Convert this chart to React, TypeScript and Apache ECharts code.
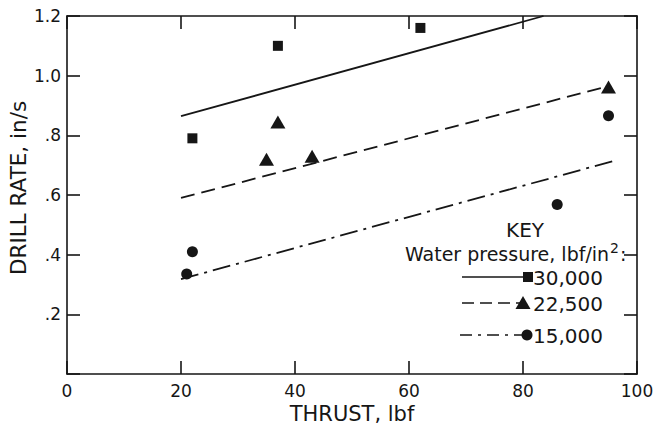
import React, { useEffect, useRef } from "react";
import * as echarts from "echarts";

// ---- data ----
const xMin = 0;
const xMax = 100;
const xInterval = 20;
const yMin = 0;
const yMax = 1.2;
const yInterval = 0.2;

const xTitle = "THRUST, lbf";
const yTitle = "DRILL RATE, in/s";

const seriesNames = ["30,000", "22,500", "15,000"];

const points30000: number[][] = [
  [22, 0.79],
  [37, 1.1],
  [62, 1.16],
];
const points22500: number[][] = [
  [35, 0.72],
  [37, 0.845],
  [43, 0.73],
  [95, 0.962],
];
const points15000: number[][] = [
  [21, 0.335],
  [22, 0.41],
  [86, 0.568],
  [95, 0.866],
];

const fit30000: number[][] = [
  [20, 0.864],
  [83.6, 1.2],
];
const fit22500: number[][] = [
  [20, 0.59],
  [95, 0.965],
];
const fit15000: number[][] = [
  [20, 0.318],
  [95.9, 0.714],
];

const INK = "#161616";
const FONT = "DejaVu Sans";

export default function App() {
  const ref = useRef<HTMLDivElement>(null);

  useEffect(() => {
    document.body.style.margin = "0";
    const chart = echarts.init(ref.current!, null, { renderer: "svg" });

    const axisLine = { show: true, onZero: false, lineStyle: { color: INK, width: 1.6 } };
    const tickIn = { show: true, inside: true, length: 13, lineStyle: { color: INK, width: 1.6 } };

    const fmtY = (v: number) => {
      if (v === 0) return "";
      const s = v.toFixed(1);
      return v < 1 ? s.replace(/^0/, "") : s;
    };

    const legendLeft = 462;
    const legendRight = 523;
    const rowY = [277, 303, 335];
    const textX = 533;

    chart.setOption({
      animation: false,
      backgroundColor: "#ffffff",
      textStyle: { fontFamily: FONT, color: INK },
      grid: { left: 67, right: 17, top: 16, bottom: 52, containLabel: false, outerBoundsMode: "none" },
      xAxis: [
        {
          type: "value",
          min: xMin,
          max: xMax,
          interval: xInterval,
          position: "bottom",
          axisLine,
          axisTick: tickIn,
          splitLine: { show: false },
          axisLabel: { color: INK, fontFamily: FONT, fontSize: 17, margin: 8 },
          name: xTitle,
          nameLocation: "middle",
          nameGap: 24,
          nameTextStyle: { color: INK, fontFamily: FONT, fontSize: 21 },
        },
        {
          type: "value",
          min: xMin,
          max: xMax,
          interval: xInterval,
          position: "top",
          axisLine,
          axisTick: tickIn,
          splitLine: { show: false },
          axisLabel: { show: false },
        },
      ],
      yAxis: [
        {
          type: "value",
          min: yMin,
          max: yMax,
          interval: yInterval,
          position: "left",
          axisLine,
          axisTick: tickIn,
          splitLine: { show: false },
          axisLabel: { color: INK, fontFamily: FONT, fontSize: 17, margin: 6, formatter: fmtY },
        },
        {
          type: "value",
          min: yMin,
          max: yMax,
          interval: yInterval,
          position: "right",
          axisLine,
          axisTick: tickIn,
          splitLine: { show: false },
          axisLabel: { show: false },
        },
      ],
      series: [
        {
          name: seriesNames[0] + " fit",
          type: "line",
          data: fit30000,
          symbol: "none",
          lineStyle: { color: INK, width: 1.8, type: "solid" },
        },
        {
          name: seriesNames[1] + " fit",
          type: "line",
          data: fit22500,
          symbol: "none",
          lineStyle: { color: INK, width: 1.8, type: [14, 7] },
        },
        {
          name: seriesNames[2] + " fit",
          type: "line",
          data: fit15000,
          symbol: "none",
          lineStyle: { color: INK, width: 1.8, type: [18, 6, 3, 6] },
        },
        {
          name: seriesNames[0],
          type: "scatter",
          data: points30000,
          symbol: "rect",
          symbolSize: 10,
          itemStyle: { color: INK, opacity: 1 },
        },
        {
          name: seriesNames[1],
          type: "scatter",
          data: points22500,
          symbol: "triangle",
          symbolSize: [15, 13],
          itemStyle: { color: INK, opacity: 1 },
        },
        {
          name: seriesNames[2],
          type: "scatter",
          data: points15000,
          symbol: "circle",
          symbolSize: 11,
          itemStyle: { color: INK, opacity: 1 },
        },
      ],
      graphic: [
        {
          type: "text",
          x: 18,
          y: 188,
          rotation: Math.PI / 2,
          style: { text: yTitle, fill: INK, font: `21.5px "${FONT}"`, align: "center", verticalAlign: "middle" },
        },
        {
          type: "text",
          x: 525,
          y: 230,
          style: { text: "KEY", fill: INK, font: `20px "${FONT}"`, align: "center", verticalAlign: "middle" },
        },
        {
          type: "text",
          x: 405,
          y: 254,
          style: {
            text: "{a|Water pressure, lbf/in}{s|2}{a|:}",
            fill: INK,
            align: "left",
            verticalAlign: "middle",
            rich: {
              a: { fontFamily: FONT, fontSize: 19, fill: INK },
              s: { fontFamily: FONT, fontSize: 14, fill: INK, padding: [0, 1, 12, 1] },
            },
          },
        },
        // legend rows
        {
          type: "line",
          shape: { x1: legendLeft, y1: rowY[0], x2: legendRight, y2: rowY[0] },
          style: { stroke: INK, lineWidth: 1.6 },
        },
        {
          type: "rect",
          shape: { x: legendRight, y: rowY[0] - 5, width: 10, height: 10 },
          style: { fill: INK },
        },
        {
          type: "text",
          x: textX,
          y: rowY[0] + 1,
          style: { text: seriesNames[0], fill: INK, font: `20px "${FONT}"`, align: "left", verticalAlign: "middle" },
        },
        {
          type: "line",
          shape: { x1: legendLeft, y1: rowY[1], x2: legendRight - 2, y2: rowY[1] },
          style: { stroke: INK, lineWidth: 1.6, lineDash: [12, 6] },
        },
        {
          type: "polygon",
          shape: { points: [[523, rowY[1] - 7], [530.5, rowY[1] + 6], [515.5, rowY[1] + 6]] },
          style: { fill: INK },
        },
        {
          type: "text",
          x: textX,
          y: rowY[1] + 1,
          style: { text: seriesNames[1], fill: INK, font: `20px "${FONT}"`, align: "left", verticalAlign: "middle" },
        },
        {
          type: "line",
          shape: { x1: legendLeft - 2, y1: rowY[2], x2: legendRight, y2: rowY[2] },
          style: { stroke: INK, lineWidth: 1.6, lineDash: [12, 6, 3, 6] },
        },
        {
          type: "circle",
          shape: { cx: 527, cy: rowY[2], r: 5.5 },
          style: { fill: INK },
        },
        {
          type: "text",
          x: textX,
          y: rowY[2] + 1,
          style: { text: seriesNames[2], fill: INK, font: `20px "${FONT}"`, align: "left", verticalAlign: "middle" },
        },
      ],
    });

    return () => chart.dispose();
  }, []);

  return (
    <div
      ref={ref}
      style={{ position: "fixed", left: 0, top: 0, width: 654, height: 426, background: "#fff" }}
    />
  );
}
